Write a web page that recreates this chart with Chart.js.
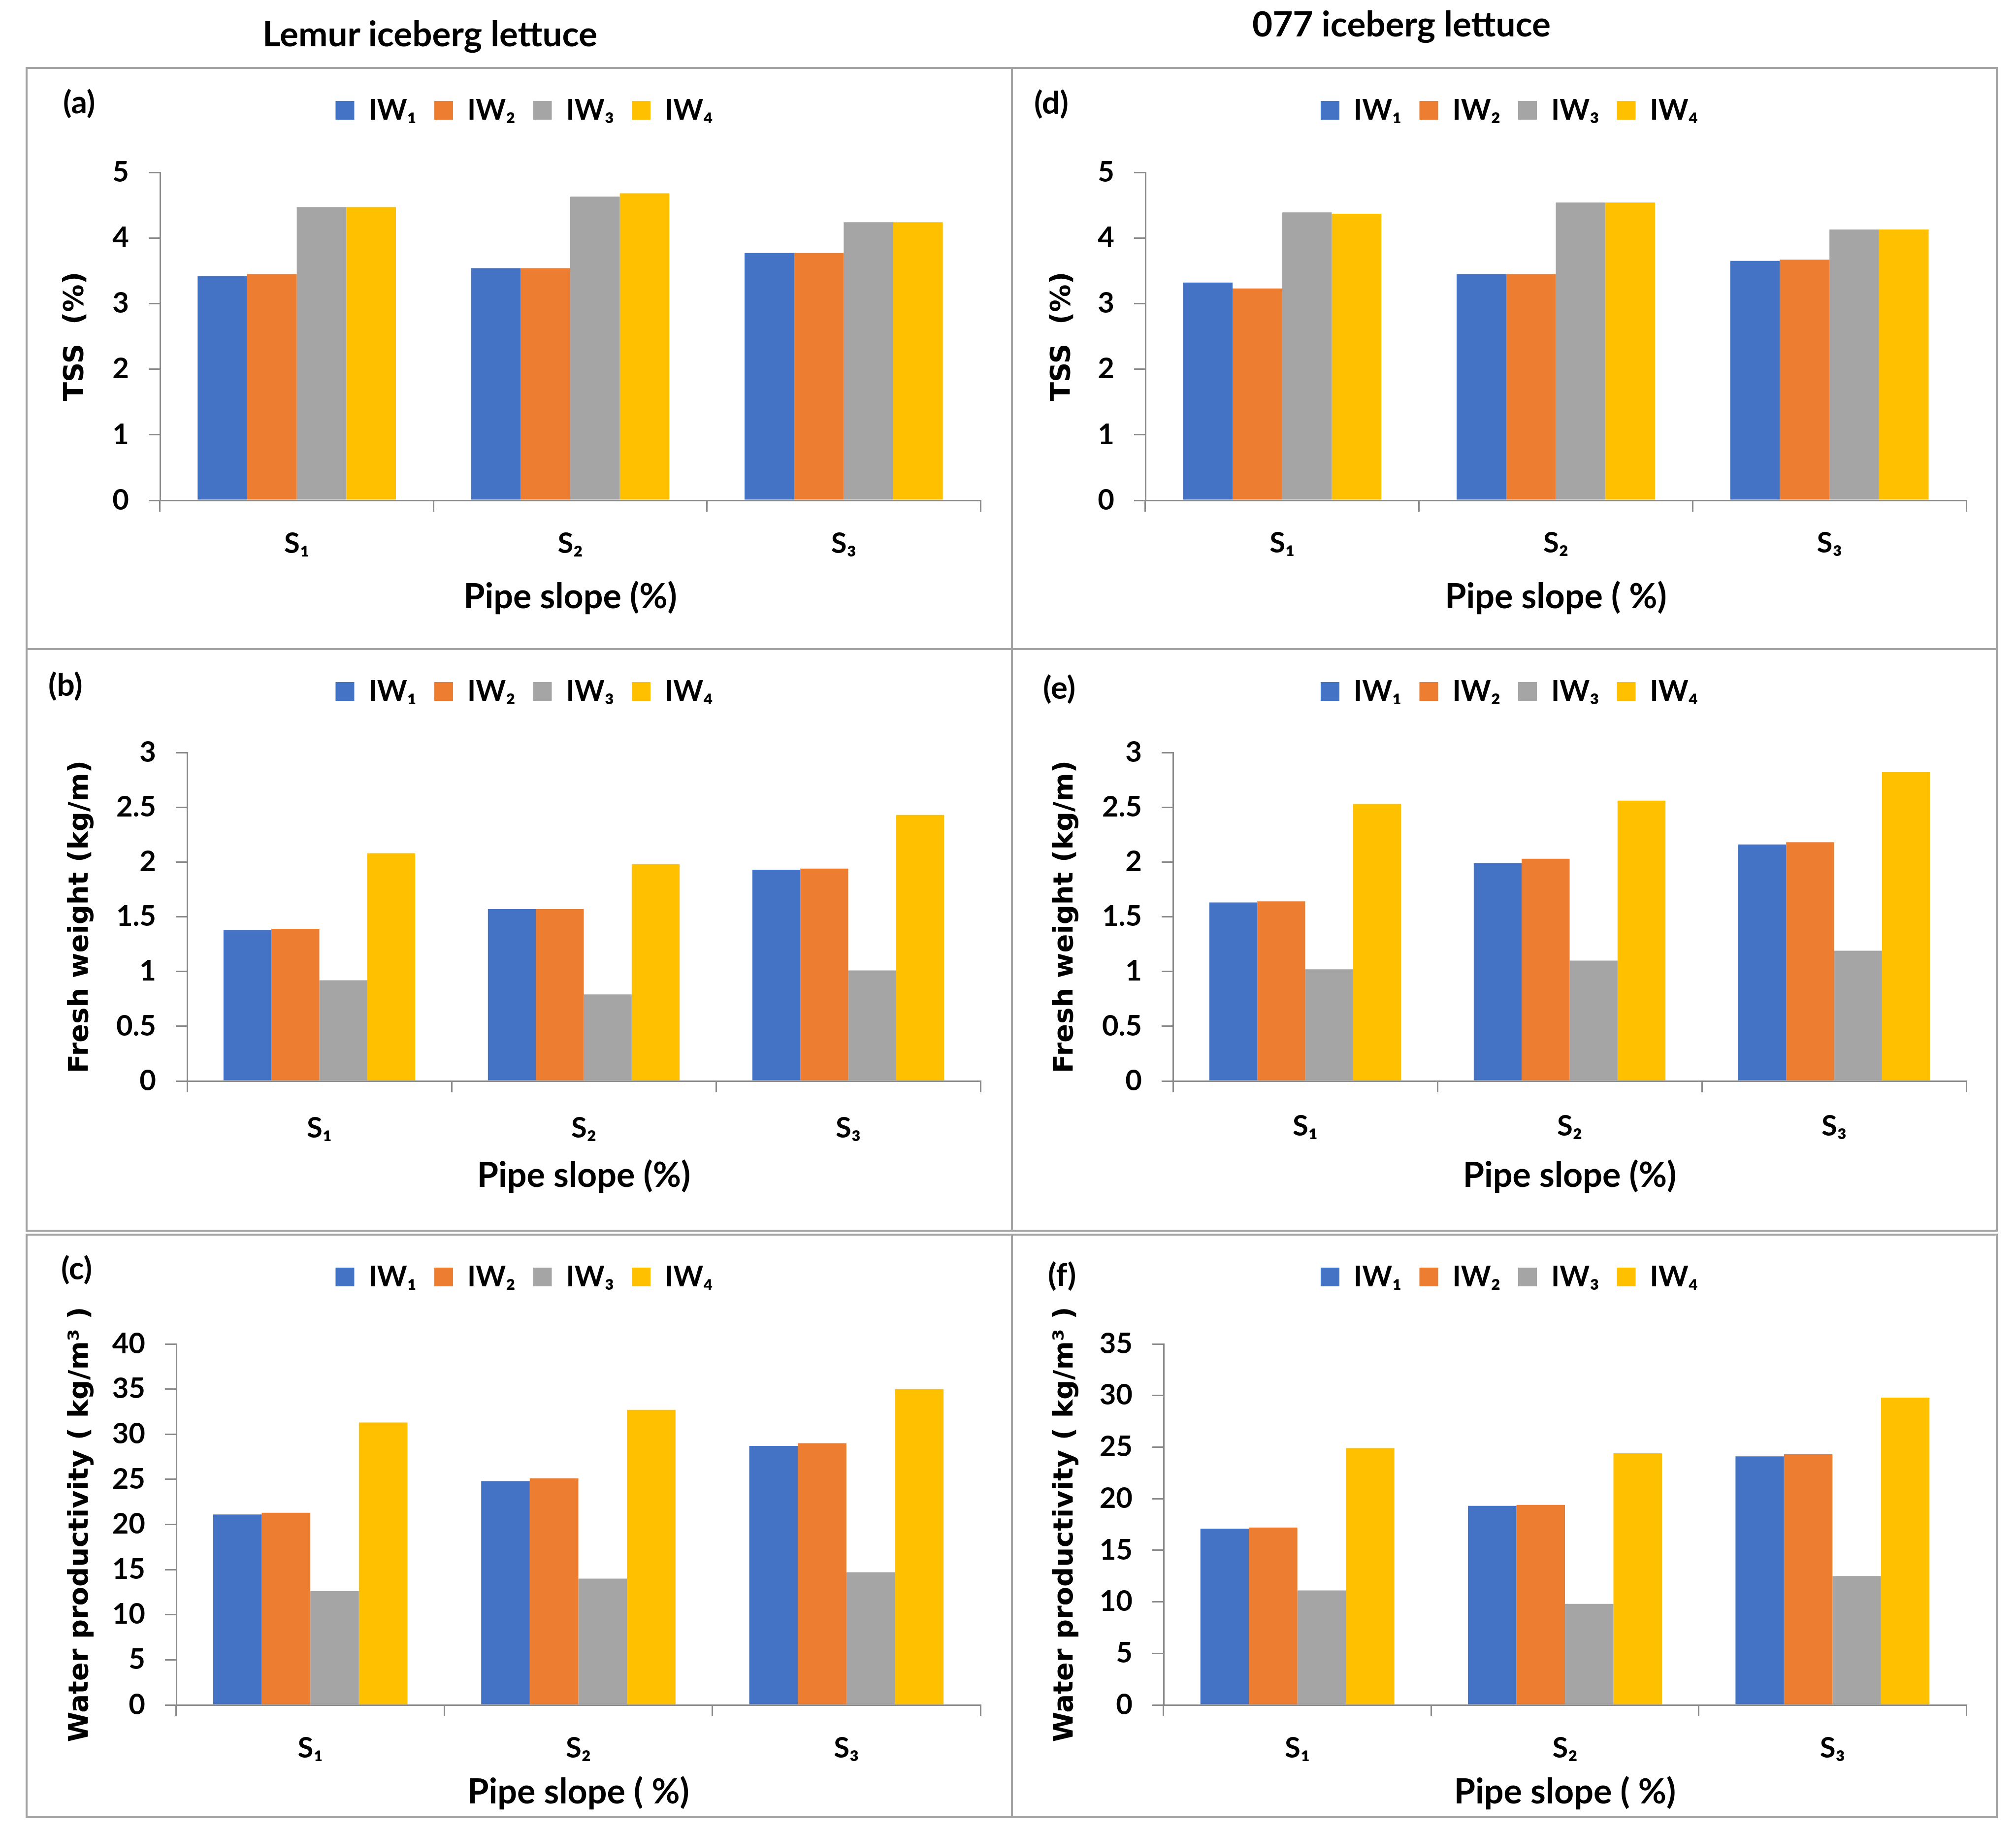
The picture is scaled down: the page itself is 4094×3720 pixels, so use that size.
<!DOCTYPE html>
<html>
<head>
<meta charset="utf-8">
<script src="https://cdn.jsdelivr.net/npm/chart.js@4.4.1/dist/chart.umd.min.js"></script>
<style>
  html, body { margin: 0; padding: 0; background: #fff; }
  #page { position: relative; width: 4094px; height: 3720px; overflow: hidden; background: #fff; }
  .frame { position: absolute; border: 4px solid #a3a3a3; box-sizing: border-box; }
  .line { position: absolute; background: #a3a3a3; }
  canvas { position: absolute; }
  .tag { position: absolute; font-family: Lato, sans-serif; font-weight: 700; font-size: 64px; line-height: 80px; color: #000; white-space: nowrap; }
  .col { position: absolute; font-family: Lato, sans-serif; font-weight: 700; font-size: 71px; line-height: 90px; color: #000; white-space: nowrap; transform: translateX(-50%); }
</style>
</head>
<body>
<div id="page">
  <div class="col" style="left:873px; top:22px;">Lemur iceberg lettuce</div>
  <div class="col" style="left:2846px; top:2px;">077 iceberg lettuce</div>

  <div class="frame" style="left:52px; top:136px; width:4005px; height:2365px;"></div>
  <div class="line" style="left:2053px; top:136px; width:4px; height:2365px;"></div>
  <div class="line" style="left:52px; top:1316px; width:4005px; height:4px;"></div>
  <div class="frame" style="left:52px; top:2505px; width:4005px; height:1187px;"></div>
  <div class="line" style="left:2053px; top:2505px; width:4px; height:1187px;"></div>
</div>
<script>
// categories and series
const categories = ['S₁', 'S₂', 'S₃'];
const seriesNames = ['IW₁', 'IW₂', 'IW₃', 'IW₄'];
const barColors = ['#4472c4', '#ed7d31', '#a5a5a5', '#ffc000'];

// (a) TSS, Lemur
const tssLemurIW1 = [3.42, 3.54, 3.77];
const tssLemurIW2 = [3.45, 3.54, 3.77];
const tssLemurIW3 = [4.47, 4.63, 4.24];
const tssLemurIW4 = [4.47, 4.68, 4.24];

// (b) fresh weight, Lemur
const fwLemurIW1 = [1.38, 1.57, 1.93];
const fwLemurIW2 = [1.39, 1.57, 1.94];
const fwLemurIW3 = [0.92, 0.79, 1.01];
const fwLemurIW4 = [2.08, 1.98, 2.43];

// (c) water productivity, Lemur
const wpLemurIW1 = [21.1, 24.8, 28.7];
const wpLemurIW2 = [21.3, 25.1, 29.0];
const wpLemurIW3 = [12.6, 14.0, 14.7];
const wpLemurIW4 = [31.3, 32.7, 35.0];

// (d) TSS, 077
const tss077IW1 = [3.32, 3.45, 3.65];
const tss077IW2 = [3.23, 3.45, 3.67];
const tss077IW3 = [4.39, 4.54, 4.13];
const tss077IW4 = [4.37, 4.54, 4.13];

// (e) fresh weight, 077
const fw077IW1 = [1.63, 1.99, 2.16];
const fw077IW2 = [1.64, 2.03, 2.18];
const fw077IW3 = [1.02, 1.10, 1.19];
const fw077IW4 = [2.53, 2.56, 2.82];

// (f) water productivity, 077
const wp077IW1 = [17.1, 19.3, 24.1];
const wp077IW2 = [17.2, 19.4, 24.3];
const wp077IW3 = [11.1, 9.8, 12.5];
const wp077IW4 = [24.9, 24.4, 29.8];

// y axis ranges
const tssTicks = { max: 5, step: 1 };
const fwTicks = { max: 3, step: 0.5 };
const wpLemurTicks = { max: 40, step: 5 };
const wp077Ticks = { max: 35, step: 5 };

const axisGray = '#8a8a8a';
const tickFont = { family: 'Lato', size: 58, weight: 'bold' };

const panels = [
  { tag: '(a)', series: [tssLemurIW1, tssLemurIW2, tssLemurIW3, tssLemurIW4], ticks: tssTicks,
    yTitle: 'TSS  (%)', xTitle: 'Pipe slope (%)',
    x: 52, y: 138, w: 2003, h: 1180, padL: 86, padR: 64, yW: 187, spacer: 87, xH: 302,
    xTickPad: 30, xTitlePad: 64, yTitlePad: 4, tagX: 76, tagY: 74 },
  { tag: '(b)', series: [fwLemurIW1, fwLemurIW2, fwLemurIW3, fwLemurIW4], ticks: fwTicks,
    yTitle: 'Fresh weight (kg/m)', xTitle: 'Pipe slope (%)',
    x: 52, y: 1318, w: 2003, h: 1181, padL: 86, padR: 64, yW: 242, spacer: 85, xH: 304,
    xTickPad: 38, xTitlePad: 70, yTitlePad: 14, tagX: 46, tagY: 77 },
  { tag: '(c)', series: [wpLemurIW1, wpLemurIW2, wpLemurIW3, wpLemurIW4], ticks: wpLemurTicks,
    yTitle: 'Water productivity ( kg/m³ )', xTitle: 'Pipe slope ( %)',
    x: 52, y: 2507, w: 2003, h: 1183, padL: 86, padR: 64, yW: 220, spacer: 97, xH: 228,
    xTickPad: 30, xTitlePad: 9, yTitlePad: 14, tagX: 72, tagY: 73 },
  { tag: '(d)', series: [tss077IW1, tss077IW2, tss077IW3, tss077IW4], ticks: tssTicks,
    yTitle: 'TSS  (%)', xTitle: 'Pipe slope ( %)',
    x: 2055, y: 138, w: 2000, h: 1180, padL: 82, padR: 62, yW: 189, spacer: 87, xH: 302,
    xTickPad: 29, xTitlePad: 64, yTitlePad: 9, tagX: 45, tagY: 75 },
  { tag: '(e)', series: [fw077IW1, fw077IW2, fw077IW3, fw077IW4], ticks: fwTicks,
    yTitle: 'Fresh weight (kg/m)', xTitle: 'Pipe slope (%)',
    x: 2055, y: 1318, w: 2000, h: 1181, padL: 82, padR: 62, yW: 245, spacer: 85, xH: 304,
    xTickPad: 34, xTitlePad: 70, yTitlePad: 15, tagX: 63, tagY: 83 },
  { tag: '(f)', series: [wp077IW1, wp077IW2, wp077IW3, wp077IW4], ticks: wp077Ticks,
    yTitle: 'Water productivity ( kg/m³ )', xTitle: 'Pipe slope ( %)',
    x: 2055, y: 2507, w: 2000, h: 1183, padL: 82, padR: 62, yW: 226, spacer: 97, xH: 228,
    xTickPad: 30, xTitlePad: 9, yTitlePad: 15, tagX: 73, tagY: 86 }
];

Chart.defaults.font.family = 'Lato';
Chart.defaults.color = '#000';

const page = document.getElementById('page');

function makePanel(p) {
  const cv = document.createElement('canvas');
  cv.width = p.w;
  cv.height = p.h;
  cv.style.left = p.x + 'px';
  cv.style.top = p.y + 'px';
  cv.style.width = p.w + 'px';
  cv.style.height = p.h + 'px';
  page.appendChild(cv);

  const tag = document.createElement('div');
  tag.className = 'tag';
  tag.textContent = p.tag;
  tag.style.left = (p.x + p.tagX) + 'px';
  tag.style.top = (p.y + p.tagY - 46) + 'px';
  page.appendChild(tag);

  new Chart(cv, {
    type: 'bar',
    data: {
      labels: categories,
      datasets: p.series.map((vals, i) => ({
        label: seriesNames[i],
        data: vals,
        backgroundColor: barColors[i],
        borderWidth: 0,
        categoryPercentage: 0.725,
        barPercentage: 1
      }))
    },
    options: {
      responsive: false,
      animation: false,
      devicePixelRatio: 1,
      layout: { padding: { left: p.padL, right: p.padR, top: 21, bottom: 0 } },
      plugins: {
        legend: {
          position: 'top',
          weight: 3000,
          labels: { boxWidth: 38, boxHeight: 38, padding: 36, color: '#000', font: tickFont }
        },
        // empty title used only as a gap between legend and plot
        title: { display: true, text: '', padding: 0, font: { size: p.spacer, lineHeight: 1 } },
        tooltip: { enabled: false }
      },
      scales: {
        x: {
          grid: { display: true, drawOnChartArea: false, drawTicks: true, tickLength: 23, color: axisGray, lineWidth: 3, offset: true },
          border: { display: true, color: axisGray, width: 3 },
          ticks: { padding: p.xTickPad, color: '#000', font: tickFont },
          title: { display: true, text: p.xTitle, color: '#000', font: { family: 'Lato', size: 70, weight: 'bold' }, padding: { top: 0, bottom: p.xTitlePad } },
          afterFit: s => { s.height = p.xH; }
        },
        y: {
          min: 0,
          max: p.ticks.max,
          grid: { display: true, drawOnChartArea: false, drawTicks: true, tickLength: 23, color: axisGray, lineWidth: 3 },
          border: { display: true, color: axisGray, width: 3 },
          ticks: { stepSize: p.ticks.step, padding: 40, color: '#000', font: tickFont, callback: v => String(+v.toFixed(2)) },
          title: { display: true, text: p.yTitle, color: '#000', font: { family: 'DejaVu Sans', size: 56, weight: 'bold', lineHeight: 0.4 }, padding: { top: p.yTitlePad, bottom: 0 } },
          afterFit: s => { s.width = p.yW; }
        }
      }
    }
  });
}

panels.forEach(makePanel);
</script>
</body>
</html>
